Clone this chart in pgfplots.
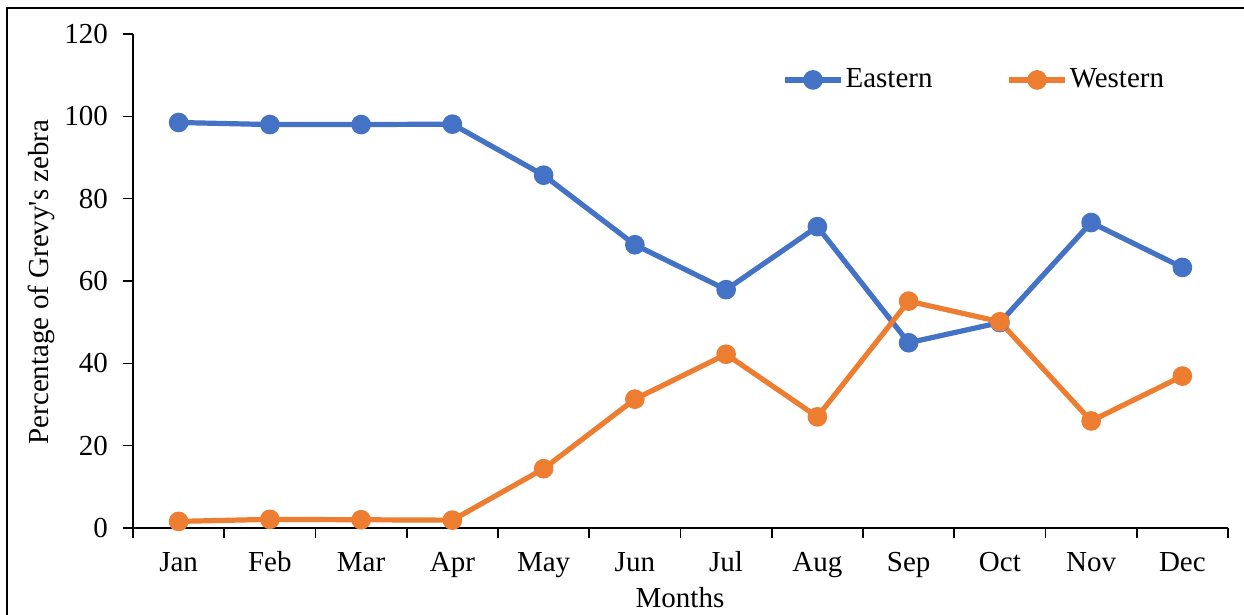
\documentclass[border=0pt]{standalone}
\usepackage{fontspec}
\setmainfont{Liberation Serif}
\usepackage{pgfplots}
\pgfplotsset{compat=1.18}

\definecolor{eastblue}{HTML}{4472C4}
\definecolor{westorange}{HTML}{ED7D31}

\newcommand{\chartfont}{\fontsize{14.5}{17}\selectfont}

\begin{document}
\begin{tikzpicture}
\useasboundingbox (0pt,0pt) rectangle (622pt,307.5pt);
% outer frame (left and top edges visible)
\draw[line width=1pt] (3.5pt,0pt) -- (3.5pt,303.5pt) -- (622pt,303.5pt);
\begin{axis}[
    at={(66.5pt,43.5pt)},
    anchor=south west,
    scale only axis,
    width=547.5pt,
    height=247pt,
    xmin=-0.5, xmax=11.5,
    ymin=0, ymax=120,
    ytick={0,20,...,120},
    xtick={-0.5,0.5,...,11.5},
    xticklabels={},
    extra x ticks={0,1,2,3,4,5,6,7,8,9,10,11},
    extra x tick labels={Jan,Feb,Mar,Apr,May,Jun,Jul,Aug,Sep,Oct,Nov,Dec},
    extra x tick style={major tick length=0pt, grid=none,
        tick label style={anchor=base, yshift=-22pt}},
    axis lines*=left,
    axis line style={-, line width=0.8pt},
    tick style={black, line width=0.8pt},
    tick align=outside,
    major tick length=5pt,
    font=\chartfont,
    ticklabel style={font=\chartfont},
    /pgf/number format/assume math mode=true,
    yticklabel style={xshift=-4pt},
    legend style={at={(0.5927,0.907)}, anchor=west, draw=none, fill=none,
        font=\chartfont, inner sep=0pt,
        nodes={inner sep=1pt},
        /tikz/every even column/.append style={column sep=36pt}},
    legend columns=2,
    legend image code/.code={
        \draw[#1, mark repeat=2, mark phase=2]
            plot coordinates {(0pt,0pt) (14pt,0pt) (28pt,0pt)};
    },
    every axis plot/.append style={line width=2.6pt, mark=*,
        mark options={line width=0pt, scale=1}, mark size=3.6pt},
]
\addplot[color=eastblue, mark options={fill=eastblue, draw=eastblue}] coordinates {
    (0,98.5) (1,98.0) (2,98.0) (3,98.1) (4,85.7) (5,68.8)
    (6,57.9) (7,73.2) (8,45.0) (9,49.9) (10,74.2) (11,63.3)
};
\addlegendentry{Eastern}
\addplot[color=westorange, mark options={fill=westorange, draw=westorange}] coordinates {
    (0,1.6) (1,2.1) (2,2.0) (3,1.9) (4,14.4) (5,31.3)
    (6,42.2) (7,27.0) (8,55.1) (9,50.1) (10,26.0) (11,36.9)
};
\addlegendentry{Western}
\end{axis}
\node[font=\chartfont] at (340pt,8.5pt) {Months};
\node[font=\chartfont, rotate=90] at (20.5pt,166.5pt) {Percentage of Grevy\textquotesingle s zebra};
\end{tikzpicture}
\end{document}
